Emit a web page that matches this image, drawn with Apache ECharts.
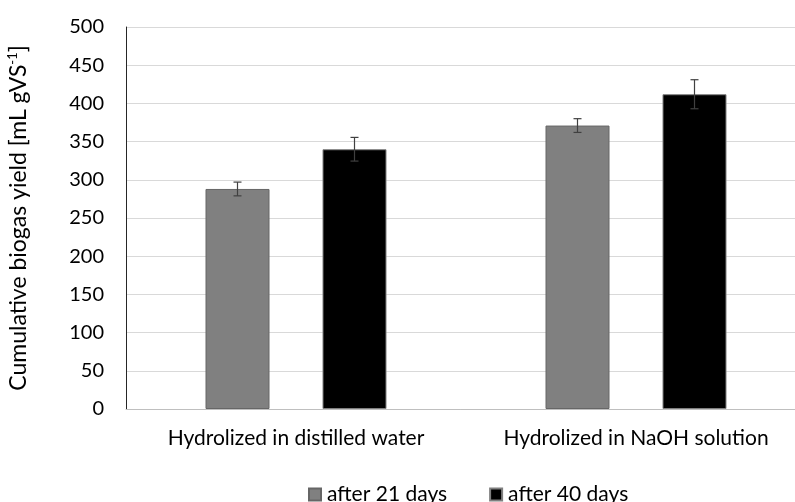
<!DOCTYPE html>
<html>
<head>
<meta charset="utf-8">
<script src="https://cdn.jsdelivr.net/npm/echarts@6/dist/echarts.min.js"></script>
<style>
  html, body { margin: 0; padding: 0; background: #fff; }
  #chart { width: 795px; height: 502px; }
</style>
</head>
<body>
<div id="chart"></div>
<script>
const categories = ['Hydrolized in distilled water', 'Hydrolized in NaOH solution'];
const seriesNames = ['after 21 days', 'after 40 days'];
const yield21 = [288, 371];
const yield40 = [340, 412];
const err21 = [9, 9];
const err40 = [15.5, 19];
const yTicks = { min: 0, max: 500, interval: 50 };

const chart = echarts.init(document.getElementById('chart'));
const font = 'Lato, "Open Sans", sans-serif';
const barW = 64;
const barGapPx = 53;

// error bars drawn as custom series shifted to each bar's centre
function errorSeries(values, errs, side) {
  return {
    type: 'custom',
    z: 10,
    silent: true,
    data: values.map((v, i) => [i, v - errs[i], v + errs[i]]),
    renderItem: function (params, api) {
      const i = api.value(0);
      const lo = api.coord([i, api.value(1)]);
      const hi = api.coord([i, api.value(2)]);
      const x = lo[0] + side * (barW + barGapPx) / 2;
      const half = 4;
      const style = { stroke: '#404040', lineWidth: 1.2 };
      return {
        type: 'group',
        children: [
          { type: 'line', shape: { x1: x, y1: lo[1], x2: x, y2: hi[1] }, style: style },
          { type: 'line', shape: { x1: x - half, y1: lo[1], x2: x + half, y2: lo[1] }, style: style },
          { type: 'line', shape: { x1: x - half, y1: hi[1], x2: x + half, y2: hi[1] }, style: style }
        ]
      };
    }
  };
}

chart.setOption({
  animation: false,
  textStyle: { fontFamily: font },
  grid: { left: 126, top: 27, width: 680, height: 382, outerBoundsMode: 'none', containLabel: false },
  legend: {
    top: 484,
    left: 308,
    padding: 0,
    itemWidth: 12,
    itemHeight: 12,
    itemGap: 42,
    icon: 'rect',
    textStyle: { color: '#000', fontSize: 21, fontFamily: font, padding: [0, 0, 0, 1] },
    data: seriesNames
  },
  xAxis: {
    type: 'category',
    data: categories,
    axisLine: { lineStyle: { color: '#bfbfbf', width: 1 } },
    axisTick: { show: false },
    axisLabel: { color: '#000', fontSize: 21, margin: 19, fontFamily: font, interval: 0, hideOverlap: false },
    splitLine: { show: false }
  },
  yAxis: {
    type: 'value',
    min: yTicks.min,
    max: yTicks.max,
    interval: yTicks.interval,
    name: '{t|Cumulative biogas yield [mL gVS}{s|-1}{t|]}',
    nameLocation: 'middle',
    nameGap: 95,
    nameTextStyle: {
      rich: {
        t: { fontSize: 23, color: '#000', fontFamily: font },
        s: { fontSize: 13, color: '#000', fontFamily: font, verticalAlign: 'top', padding: [0, 0, 12, 0] }
      }
    },
    axisLine: { show: true, lineStyle: { color: '#262626', width: 1 } },
    axisTick: { show: false },
    axisLabel: { color: '#000', fontSize: 20, margin: 22, fontFamily: font },
    splitLine: { lineStyle: { color: '#d9d9d9', width: 1 } }
  },
  series: [
    {
      name: seriesNames[0],
      type: 'bar',
      data: yield21,
      barWidth: barW,
      barGap: (barGapPx / barW * 100) + '%',
      itemStyle: { color: '#808080', borderColor: '#666666', borderWidth: 1 }
    },
    {
      name: seriesNames[1],
      type: 'bar',
      data: yield40,
      barWidth: barW,
      itemStyle: { color: '#000000', borderColor: '#7f7f7f', borderWidth: 1 }
    },
    errorSeries(yield21, err21, -1),
    errorSeries(yield40, err40, 1)
  ]
});
</script>
</body>
</html>
